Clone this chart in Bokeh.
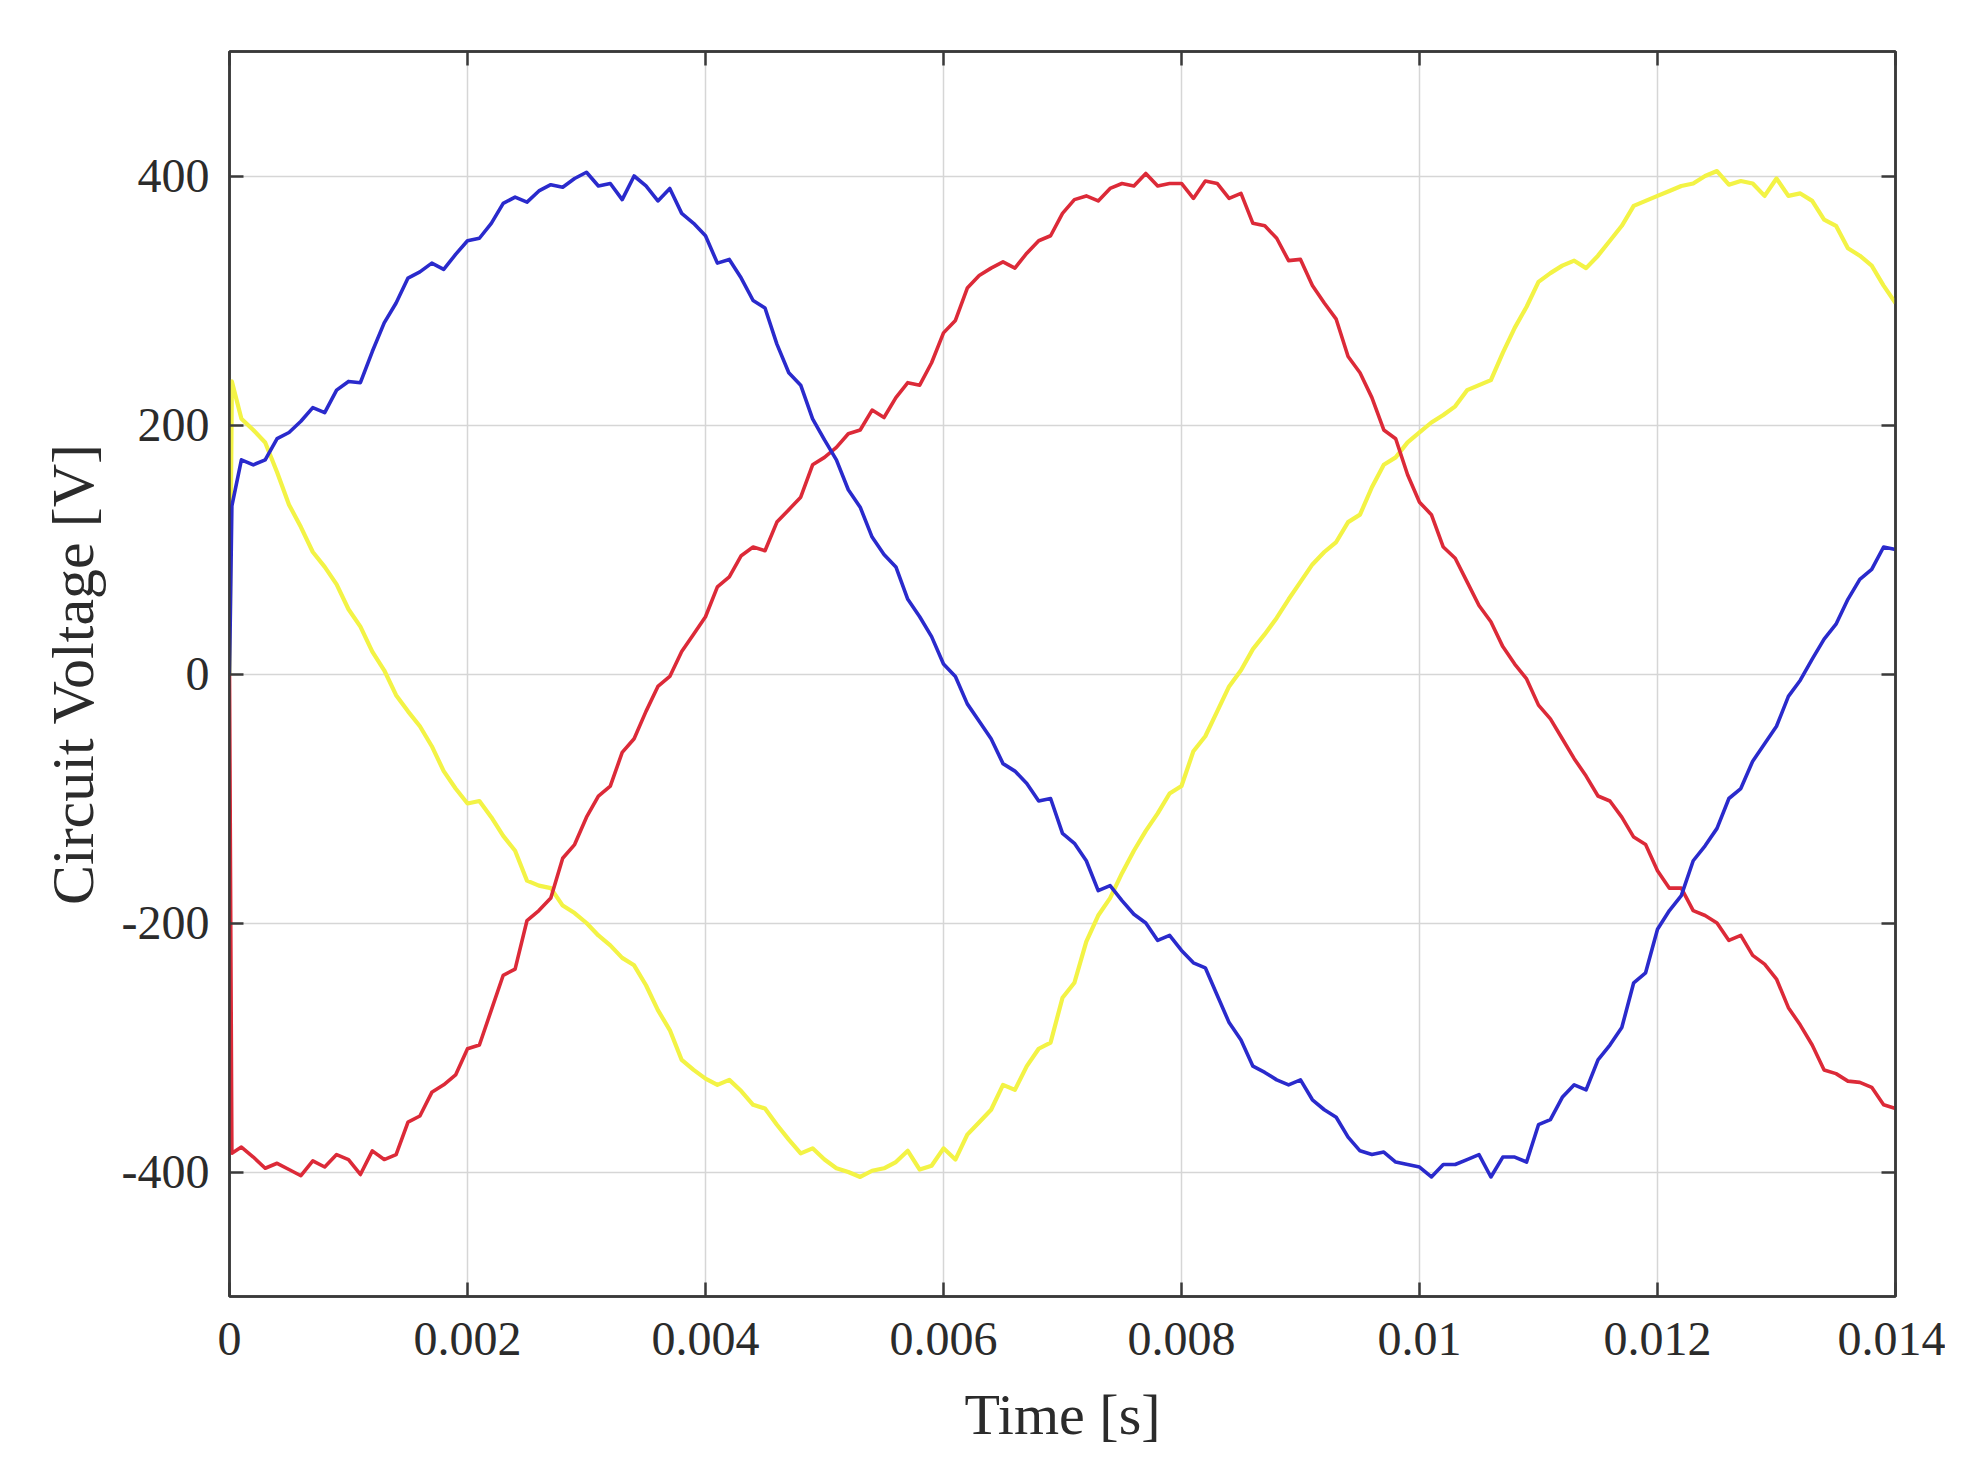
from bokeh.plotting import figure
from bokeh.models import Range1d, LinearAxis, FixedTicker
from bokeh.embed import file_html
from bokeh.resources import INLINE

# time samples in milliseconds
t_ms = [0, 0.02, 0.1, 0.2, 0.3, 0.4, 0.5, 0.6, 0.7, 0.8, 0.9, 1.0, 1.1, 1.2, 1.3, 1.4, 1.5, 1.6, 1.7, 1.8, 1.9, 2.0,
        2.1, 2.2, 2.3, 2.4, 2.5, 2.6, 2.7, 2.8, 2.9, 3.0, 3.1, 3.2, 3.3, 3.4, 3.5, 3.6, 3.7, 3.8, 3.9, 4.0,
        4.1, 4.2, 4.3, 4.4, 4.5, 4.6, 4.7, 4.8, 4.9, 5.0, 5.1, 5.2, 5.3, 5.4, 5.5, 5.6, 5.7, 5.8, 5.9, 6.0,
        6.1, 6.2, 6.3, 6.4, 6.5, 6.6, 6.7, 6.8, 6.9, 7.0, 7.1, 7.2, 7.3, 7.4, 7.5, 7.6, 7.7, 7.8, 7.9, 8.0,
        8.1, 8.2, 8.3, 8.4, 8.5, 8.6, 8.7, 8.8, 8.9, 9.0, 9.1, 9.2, 9.3, 9.4, 9.5, 9.6, 9.7, 9.8, 9.9, 10.0,
        10.1, 10.2, 10.3, 10.4, 10.5, 10.6, 10.7, 10.8, 10.9, 11.0, 11.1, 11.2, 11.3, 11.4, 11.5, 11.6, 11.7, 11.8, 11.9, 12.0,
        12.1, 12.2, 12.3, 12.4, 12.5, 12.6, 12.7, 12.8, 12.9, 13.0, 13.1, 13.2, 13.3, 13.4, 13.5, 13.6, 13.7, 13.8, 13.9, 14.0]

v_blue = [0, 135, 172, 168, 172, 189, 194, 203, 214, 210, 228, 235, 234, 259, 282, 298, 318, 323, 330, 325, 337, 348, 350, 362, 378,
          383, 379, 388, 393, 391, 398, 403, 392, 394, 381, 400, 392, 380, 390, 370, 362, 352, 330, 333, 318, 300, 294, 265, 242,
          232, 205, 188, 172, 148, 134, 110, 96, 86, 60, 46, 30, 8, -2, -24, -38, -52, -72, -78, -88, -102, -100, -128,
          -136, -150, -174, -170, -182, -193, -200, -214, -210, -222, -232, -236, -258, -280, -294, -315, -320, -326, -330, -326, -342, -350, -356, -372,
          -383, -386, -384, -392, -394, -396, -404, -394, -394, -390, -386, -404, -388, -388, -392, -362, -358, -340, -330, -334, -310, -298, -284,
          -248, -240, -205, -190, -178, -150, -138, -124, -100, -92, -70, -56, -42, -18, -5, 12, 28, 40, 60, 76, 84, 102, 100]

v_red = [0, -385, -380, -388, -397, -393, -398, -403, -391, -396, -386, -390, -402, -383, -390, -386, -360, -355, -336, -330, -322, -301, -298, -270, -242,
         -237, -198, -190, -180, -148, -137, -115, -98, -90, -63, -52, -30, -10, -2, 18, 32, 46, 70, 78, 95, 102, 99, 122, 132,
         142, 168, 174, 182, 193, 196, 212, 206, 222, 234, 232, 250, 274, 284, 310, 320, 326, 331, 326, 338, 348, 352, 370,
         381, 384, 380, 390, 394, 392, 402, 392, 394, 394, 382, 396, 394, 382, 386, 362, 360, 350, 332, 333, 312, 298, 285, 255,
         242, 222, 196, 189, 160, 138, 128, 102, 93, 74, 55, 42, 22, 8, -4, -25, -36, -52, -68, -82, -98, -102, -115,
         -131, -137, -158, -172, -172, -190, -194, -200, -214, -210, -226, -233, -245, -268, -282, -298, -318, -321, -327, -328, -332, -346, -349]

v_yellow = [0, 235, 205, 196, 186, 162, 136, 118, 98, 86, 72, 52, 38, 18, 3, -17, -30, -42, -58, -78, -92, -104, -102, -115, -130,
            -142, -166, -170, -172, -186, -192, -200, -210, -218, -228, -234, -250, -270, -286, -310, -318, -325, -330, -326, -335, -346, -349, -362, -374,
            -385, -381, -390, -397, -400, -404, -399, -397, -392, -383, -398, -395, -381, -390, -370, -360, -350, -330, -334, -315, -301, -296, -260,
            -248, -215, -194, -180, -160, -142, -126, -112, -96, -90, -62, -50, -30, -10, 3, 20, 32, 45, 60, 74, 88, 98, 106, 122,
            128, 150, 168, 174, 186, 194, 202, 208, 215, 228, 232, 236, 258, 278, 295, 315, 322, 328, 332, 326, 336, 348, 360,
            376, 380, 384, 388, 392, 394, 400, 404, 393, 396, 394, 384, 398, 384, 386, 380, 365, 360, 342, 336, 328, 312, 298]

x_ticks = [0, 0.002, 0.004, 0.006, 0.008, 0.010, 0.012, 0.014]
x_tick_labels = ["0", "0.002", "0.004", "0.006", "0.008", "0.01", "0.012", "0.014"]
y_ticks = [-400, -200, 0, 200, 400]
y_tick_labels = ["-400", "-200", "0", "200", "400"]

t = [v / 1000.0 for v in t_ms]

FONT = "Liberation Serif"
TXT = "#2b2b2b"
AX = "#3a3a3a"

p = figure(output_backend="svg", toolbar_location=None,
           frame_width=1666, frame_height=1245,
           min_border_left=229, min_border_top=51, min_border_right=50, min_border_bottom=140,
           x_range=Range1d(0, 0.014), y_range=Range1d(-500, 500),
           background_fill_color="white", border_fill_color="white")

p.outline_line_color = AX
p.outline_line_width = 2.5

p.xaxis.ticker = FixedTicker(ticks=x_ticks)
p.yaxis.ticker = FixedTicker(ticks=y_ticks)
p.xaxis.major_label_overrides = {tk: lb for tk, lb in zip(x_ticks, x_tick_labels)}
p.yaxis.major_label_overrides = {tk: lb for tk, lb in zip(y_ticks, y_tick_labels)}

for ax in (p.xaxis[0], p.yaxis[0]):
    ax.axis_line_color = AX
    ax.axis_line_width = 2.5
    ax.major_tick_in = 14
    ax.major_tick_out = 0
    ax.major_tick_line_color = AX
    ax.major_tick_line_width = 2.5
    ax.minor_tick_line_color = None
    ax.major_label_text_font = FONT
    ax.major_label_text_font_size = "48px"
    ax.major_label_text_color = TXT
    ax.axis_label_text_font = FONT
    ax.axis_label_text_font_style = "normal"
    ax.axis_label_text_color = TXT

p.xaxis.axis_label = "Time [s]"
p.xaxis.axis_label_text_font_size = "58px"
p.xaxis.major_label_standoff = 26
p.xaxis.axis_label_standoff = 24
p.yaxis.axis_label = "Circuit Voltage [V]"
p.yaxis.axis_label_text_font_size = "60px"
p.yaxis.major_label_standoff = 20
p.yaxis.axis_label_standoff = 13

# mirror axes (box style, ticks only)
for loc, tks in (("right", y_ticks), ("above", x_ticks)):
    a = LinearAxis(ticker=FixedTicker(ticks=tks),
                   major_label_overrides={tk: "" for tk in tks},
                   axis_line_color=AX, axis_line_width=2.5,
                   major_tick_in=14, major_tick_out=0,
                   major_tick_line_color=AX, major_tick_line_width=2.5,
                   minor_tick_line_color=None, major_label_text_font_size="1px")
    p.add_layout(a, loc)

p.xgrid.ticker = FixedTicker(ticks=x_ticks)
p.ygrid.ticker = FixedTicker(ticks=y_ticks)
p.xgrid.grid_line_color = "#d6d6d6"
p.ygrid.grid_line_color = "#d6d6d6"
p.xgrid.grid_line_width = 1.5
p.ygrid.grid_line_width = 1.5

p.line(t, v_yellow, line_color="#f3f345", line_width=4.2, line_join="round")
p.line(t, v_red, line_color="#dc2a38", line_width=3.6, line_join="round")
p.line(t, v_blue, line_color="#2a2acc", line_width=3.6, line_join="round")

open("out.html", "w").write(file_html(p, INLINE))
